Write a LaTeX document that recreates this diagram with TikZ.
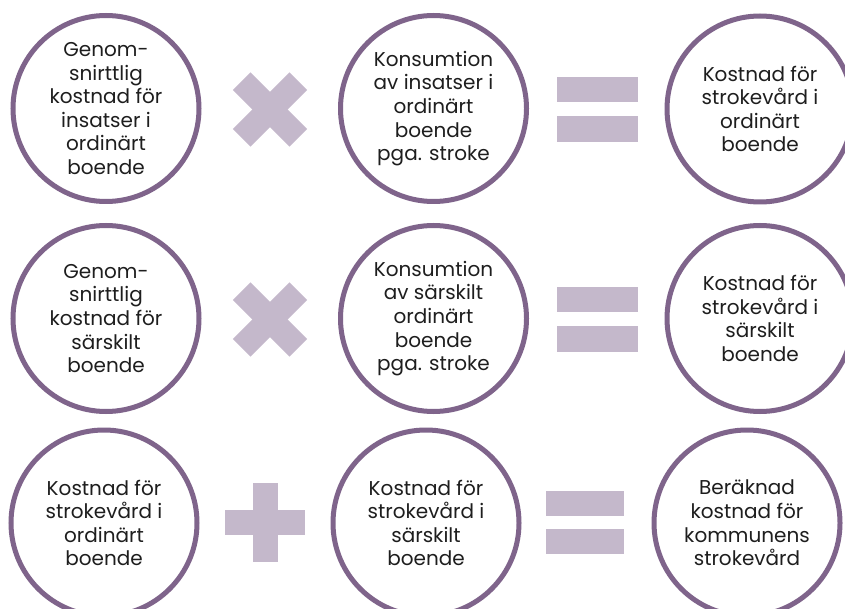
\documentclass[tikz,border=0pt]{standalone}
\usepackage{fontspec}
\setmainfont{Poppins}
\definecolor{ringc}{HTML}{7F648B}
\definecolor{opc}{HTML}{C4B8CB}
\definecolor{txt}{HTML}{1E1E1E}
\begin{document}
\begin{tikzpicture}[x=1pt,y=-1pt,
  ring/.style={circle, draw=ringc, line width=5pt, minimum size=186pt,
    inner sep=0pt, align=center, text=txt,
    font=\fontsize{20}{23.6}\selectfont},
  opfill/.style={fill=opc, draw=none}]
\clip (0,0) rectangle (845,609);
\fill[white] (0,0) rectangle (845,609);

% --- row 1 ---
\node[ring] (a1) at (106,108.5) {Genom-\\snirttlig\\kostnad för\\insatser i\\ordinärt\\boende};
\node[ring] (a2) at (433.5,108.5) {Konsumtion\\av insatser i\\ordinärt\\boende\\pga. stroke};
\node[ring] (a3) at (760,109) {Kostnad för\\strokevård i\\ordinärt\\boende};
% times sign
\fill[opfill, rotate around={45:(270,109.5)}] (230,97) rectangle (310,122);
\fill[opfill, rotate around={-45:(270,109.5)}] (230,97) rectangle (310,122);
% equals sign
\fill[opfill] (557,77) rectangle (638,102);
\fill[opfill] (557,116) rectangle (638,142);

% --- row 2 ---
\node[ring] (b1) at (106,318.5) {Genom-\\snirttlig\\kostnad för\\särskilt\\boende};
\node[ring] (b2) at (433.5,318.5) {Konsumtion\\av särskilt\\ordinärt\\boende\\pga. stroke};
\node[ring] (b3) at (760,318.5) {Kostnad för\\strokevård i\\särskilt\\boende};
\fill[opfill, rotate around={45:(270,319.5)}] (230,307) rectangle (310,332);
\fill[opfill, rotate around={-45:(270,319.5)}] (230,307) rectangle (310,332);
\fill[opfill] (557,287) rectangle (638,312);
\fill[opfill] (557,326) rectangle (638,352);

% --- row 3 ---
\node[ring] (c1) at (104,523) {Kostnad för\\strokevård i\\ordinärt\\boende};
\node[ring] (c2) at (426,523) {Kostnad för\\strokevård i\\särskilt\\boende};
\node[ring] (c3) at (747,523) {Beräknad\\kostnad för\\kommunens\\strokevård};
% plus sign
\fill[opfill] (225,510) rectangle (305,535);
\fill[opfill] (252.5,483) rectangle (277.5,562);
\fill[opfill] (546,491) rectangle (624,516);
\fill[opfill] (546,529) rectangle (624,554);
\end{tikzpicture}
\end{document}
